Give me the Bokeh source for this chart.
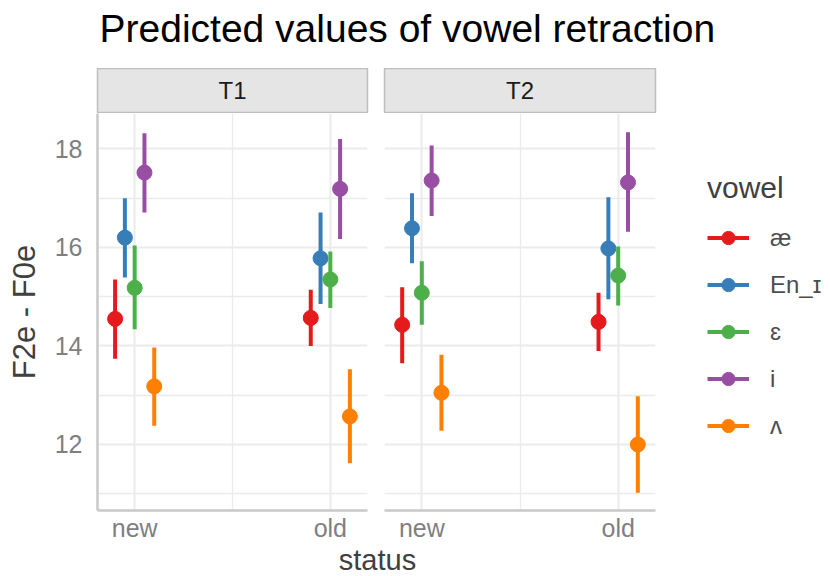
from bokeh.plotting import figure
from bokeh.models import (ColumnDataSource, FixedTicker, Legend, LegendItem,
                          Label, Range1d)
from bokeh.layouts import column, row
from bokeh.core.properties import value
from bokeh.embed import file_html
from bokeh.resources import INLINE

# ---------------- data ----------------
panels = ["T1", "T2"]
statuses = ["new", "old"]
vowels = ["æ", "En_ɪ", "ɛ", "i", "ʌ"]
colors = ["#E41A1C", "#377EB8", "#4DAF4A", "#984EA3", "#FF7F00"]

y_ticks = [12, 14, 16, 18]
y_minor = [11, 13, 15, 17]

# predicted values and intervals, one entry per vowel (order as `vowels`)
T1_new_fit = [14.55, 16.20, 15.18, 17.52, 13.18]
T1_new_low = [13.74, 15.39, 14.34, 16.71, 12.38]
T1_new_high = [15.35, 17.00, 16.04, 18.32, 13.97]

T1_old_fit = [14.57, 15.78, 15.35, 17.19, 12.57]
T1_old_low = [14.00, 14.85, 14.77, 16.17, 11.62]
T1_old_high = [15.14, 16.71, 15.92, 18.20, 13.53]

T2_new_fit = [14.43, 16.39, 15.08, 17.36, 13.05]
T2_new_low = [13.65, 15.68, 14.43, 16.64, 12.28]
T2_new_high = [15.19, 17.10, 15.72, 18.07, 13.82]

T2_old_fit = [14.49, 15.98, 15.43, 17.32, 12.00]
T2_old_low = [13.90, 14.95, 14.82, 16.32, 11.02]
T2_old_high = [15.08, 17.02, 16.02, 18.34, 12.98]

data = {
    "T1": {"new": (T1_new_fit, T1_new_low, T1_new_high),
           "old": (T1_old_fit, T1_old_low, T1_old_high)},
    "T2": {"new": (T2_new_fit, T2_new_low, T2_new_high),
           "old": (T2_old_fit, T2_old_low, T2_old_high)},
}

# ---------------- style ----------------
FONT = "Liberation Sans"
GRID = "#EBEBEB"
AXIS_LINE = "#C8C8C8"
TICK_COL = "#7F7F7F"
TITLE_COL = "#404040"
DODGE = 0.05

FRAME_H = 397
STRIP_H = 44

x_range = Range1d(0.81, 2.19)
y_range = Range1d(10.66, 18.72)


def style_common(p):
    p.outline_line_color = None
    p.background_fill_color = "white"
    p.border_fill_color = "white"


def make_panel(panel, frame_w, bl, br, show_y):
    p = figure(frame_width=frame_w, frame_height=FRAME_H,
               x_range=x_range, y_range=y_range,
               output_backend="svg", toolbar_location=None,
               min_border_left=bl, min_border_right=br,
               min_border_top=0, min_border_bottom=31,
               y_axis_location="left" if show_y else None)
    style_common(p)

    xt = [i + 1 for i in range(len(statuses))]
    xm = [(a + b) / 2 for a, b in zip(xt[:-1], xt[1:])]
    p.xgrid.ticker = FixedTicker(ticks=xt, minor_ticks=xm)
    p.ygrid.ticker = FixedTicker(ticks=y_ticks, minor_ticks=y_minor)
    for g in (p.xgrid[0], p.ygrid[0]):
        g.grid_line_color = GRID
        g.grid_line_width = 2
        g.minor_grid_line_color = GRID
        g.minor_grid_line_width = 1.3

    ax = p.xaxis[0]
    ax.ticker = FixedTicker(ticks=xt)
    ax.major_label_overrides = {t: s for t, s in zip(xt, statuses)}
    ax.major_tick_line_color = None
    ax.minor_tick_line_color = None
    ax.major_tick_out = 0
    ax.major_tick_in = 0
    ax.axis_line_color = AXIS_LINE
    ax.axis_line_width = 2.5
    ax.major_label_standoff = 3
    ax.major_label_text_font = FONT
    ax.major_label_text_font_size = "25px"
    ax.major_label_text_color = TICK_COL

    if show_y:
        ay = p.yaxis[0]
        ay.ticker = FixedTicker(ticks=y_ticks)
        ay.major_tick_line_color = None
        ay.minor_tick_line_color = None
        ay.major_tick_out = 0
        ay.major_tick_in = 0
        ay.axis_line_color = AXIS_LINE
        ay.axis_line_width = 2.5
        ay.major_label_standoff = 15
        ay.major_label_text_font = FONT
        ay.major_label_text_font_size = "25px"
        ay.major_label_text_color = TICK_COL
        ay.axis_label = "F2e - F0e"
        ay.axis_label_text_font = FONT
        ay.axis_label_text_font_size = "31px"
        ay.axis_label_text_font_style = "normal"
        ay.axis_label_text_color = TITLE_COL
        ay.axis_label_standoff = 10

    renderers = []
    for vi, (v, c) in enumerate(zip(vowels, colors)):
        off = (vi - (len(vowels) - 1) / 2) * DODGE
        xs, ys, los, his = [], [], [], []
        for si, s in enumerate(statuses):
            fit, low, high = data[panel][s]
            xs.append(si + 1 + off)
            ys.append(fit[vi])
            los.append(low[vi])
            his.append(high[vi])
        src = ColumnDataSource(dict(x=xs, y=ys, lo=los, hi=his))
        seg = p.segment(x0="x", y0="lo", x1="x", y1="hi", source=src,
                        line_color=c, line_width=4)
        sc = p.scatter(x="x", y="y", source=src, size=15,
                       fill_color=c, line_color=c)
        renderers.append((v, [seg, sc]))
    return p, renderers


def make_strip(label, frame_w, bl, br):
    s = figure(frame_width=frame_w, frame_height=STRIP_H,
               x_range=(0, 1), y_range=(0, 1),
               x_axis_location=None, y_axis_location=None,
               min_border_left=bl, min_border_right=br,
               min_border_top=0, min_border_bottom=1,
               output_backend="svg", toolbar_location=None)
    s.grid.visible = False
    s.background_fill_color = "#E5E5E5"
    s.border_fill_color = "white"
    s.outline_line_color = "#BEBEBE"
    s.outline_line_width = 1.5
    s.text(x=[0.5], y=[0.5], text=[label], text_align="center",
           text_baseline="middle", text_font=value(FONT),
           text_font_size="24px", text_color="#1A1A1A")
    return s


# panel geometry
f1, _ = make_panel(panels[0], 270, 97, 8, True)
f2, rends = make_panel(panels[1], 271, 9, 175, False)

items = [LegendItem(label=v, renderers=r) for v, r in rends]
legend = Legend(items=items, title="vowel", location=(52, 68),
                orientation="vertical", margin=0, padding=0,
                spacing=14, glyph_width=42, glyph_height=33,
                label_height=33, label_standoff=21,
                label_text_font=FONT, label_text_font_size="24px",
                label_text_color="#4D4D4D",
                title_text_font=FONT, title_text_font_size="30px",
                title_text_font_style="normal", title_text_color=TITLE_COL,
                title_standoff=16, border_line_color=None,
                background_fill_alpha=0)
f2.add_layout(legend, "right")

s1 = make_strip(panels[0], 270, 97, 8)
s2 = make_strip(panels[1], 271, 9, 175)

# title
t = figure(width=830, height=68, x_range=(0, 1), y_range=(0, 1),
           x_axis_location=None, y_axis_location=None, min_border=0,
           output_backend="svg", toolbar_location=None)
t.grid.visible = False
style_common(t)
t.add_layout(Label(x=99, y=40, x_units="screen", y_units="screen",
                   text="Predicted values of vowel retraction",
                   text_font=FONT, text_font_size="39px", text_color="black",
                   text_baseline="alphabetic"))

# shared x axis title
b = figure(width=830, height=35, x_range=(0, 1), y_range=(0, 1),
           x_axis_location=None, y_axis_location=None, min_border=0,
           output_backend="svg", toolbar_location=None)
b.grid.visible = False
style_common(b)
b.add_layout(Label(x=377, y=20, x_units="screen", y_units="screen",
                   text="status", text_align="center",
                   text_font=FONT, text_font_size="29px", text_color=TITLE_COL,
                   text_baseline="alphabetic"))

layout = column(t, row(column(s1, f1), column(s2, f2)), b)

open("out.html", "w").write(file_html(layout, INLINE))
